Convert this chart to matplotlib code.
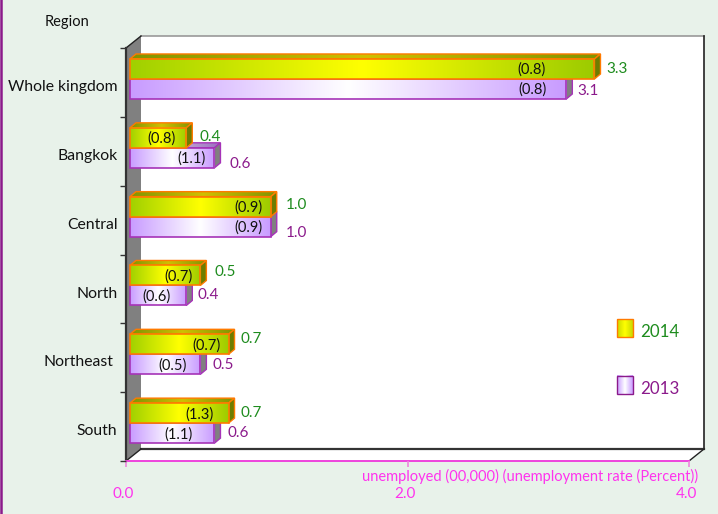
import numpy as np
import matplotlib
matplotlib.use("Agg")
import matplotlib.pyplot as plt
from matplotlib.colors import LinearSegmentedColormap
from matplotlib.patches import Polygon, Rectangle

plt.rcParams["font.family"] = ["Lato", "DejaVu Sans"]

# data
regions = ["Whole kingdom", "Bangkok", "Central", "North", "Northeast", "South"]
unemployed_2014 = [3.3, 0.4, 1.0, 0.5, 0.7, 0.7]
unemployed_2013 = [3.1, 0.6, 1.0, 0.4, 0.5, 0.6]
rate_2014 = ["(0.8)", "(0.8)", "(0.9)", "(0.7)", "(0.7)", "(1.3)"]
rate_2013 = ["(0.8)", "(1.1)", "(0.9)", "(0.6)", "(0.5)", "(1.1)"]
x_ticks = [0.0, 2.0, 4.0]

# label nudges in pixels, the source chart is not very regular
value_dx_2014 = [12, 13, 15, 14, 12, 12]
value_dy_2014 = [0, -1, -2, -3, -5, 0]
value_dx_2013 = [11, 15, 15, 11, 12, 13]
value_dy_2013 = [2, 6, 6, 0, 1, 0]
rate_dx_2014 = [-63, -25, -22, -22, -22, -29]
rate_dx_2013 = [-34, -23, -22, -30, -28, -36]
label_dx = [0, 0, 0, 0, -5, -1]

W, H = 718, 514
BG = "#e8f2ea"
PURPLE = "#8b1a8b"
GREEN = "#1e8c1e"
MAGENTA = "#ff33ee"
ORANGE = "#ff7a00"

fig = plt.figure(figsize=(W / 100, H / 100), dpi=100, facecolor=BG)
# axes = front plane of the fake 3d box
x0, x1, y_top, y_bot = 126, 689, 48, 461
ax = fig.add_axes([x0 / W, 1 - y_bot / H, (x1 - x0) / W, (y_bot - y_top) / H])
ax.patch.set_alpha(0)
for s in ax.spines.values():
    s.set_visible(False)

sx = (x1 - x0) / 4.0
sy = (y_bot - y_top) / 6.0


def px(x, y):
    # pixel position in the reference -> data coords
    return (x - x0) / sx, (y_bot - y) / sy


def poly(points, fc, ec="none", lw=0.0, z=1):
    patch = Polygon(points, closed=True, facecolor=fc, edgecolor=ec,
                    linewidth=lw, zorder=z, clip_on=False)
    ax.add_patch(patch)
    return patch


def gradient(x_left, x_right, y_low, y_high, cmap, z):
    return ax.imshow(np.linspace(0, 1, 256).reshape(1, -1), cmap=cmap, aspect="auto",
                     extent=[x_left, x_right, y_low, y_high], zorder=z, clip_on=False,
                     interpolation="bilinear", vmin=0, vmax=1)


cm_2014 = LinearSegmentedColormap.from_list("y14", ["#a0d000", "#ffff00", "#9ccb00"])
cm_2013 = LinearSegmentedColormap.from_list("p13", ["#c89bff", "#ffffff", "#c89bff"])
cm_top14 = LinearSegmentedColormap.from_list("t14", ["#7f9400", "#d0c000", "#7f9400"])
cm_top13 = LinearSegmentedColormap.from_list("t13", ["#9a70c0", "#c8b0d8", "#9a70c0"])
cm_swatch = LinearSegmentedColormap.from_list("s14", ["#c8d800", "#ffff00", "#c8d800"])

# box walls
poly([px(141, 36), px(704, 36), px(704, 449), px(141, 449)], "white", z=0.1)
poly([px(126, 461), px(141, 449), px(704, 449), px(689, 461)], "white", z=0.1)
poly([px(126, 48), px(141, 36), px(141, 449), px(126, 461)], "#808080", z=0.2)
ax.plot(*zip(px(141, 36), px(704, 36)), color="#999999", lw=1.2, zorder=0.3, clip_on=False)
ax.plot(*zip(px(704, 36), px(704, 449)), color="#222222", lw=1.2, zorder=0.3, clip_on=False)
ax.plot(*zip(px(141, 449), px(704, 449)), color="#333333", lw=1.6, zorder=0.3, clip_on=False)
ax.plot(*zip(px(126, 48), px(141, 36)), color="#222222", lw=1.0, zorder=0.3, clip_on=False)
ax.plot(*zip(px(126, 461), px(141, 449)), color="#222222", lw=1.0, zorder=0.3, clip_on=False)
ax.plot(*zip(px(689, 461), px(704, 449)), color="#222222", lw=1.0, zorder=0.3, clip_on=False)
ax.plot(*zip(px(126, 48), px(126, 461)), color="#333333", lw=1.6, zorder=0.4, clip_on=False)
ax.plot([0, 4], [0, 0], color="#ee44dd", lw=1.4, zorder=0.4, clip_on=False)

# bars
bar_h = 20 / sy
base = 4 / sx
dx, dy = 6 / sx, 5 / sy
n = len(regions)


def draw_bar(value, y_low, cmap, edge, top_cmap, side_col, z):
    left = base
    right = base + value
    y_high = y_low + bar_h
    # top face and side face
    top = poly([(left, y_high), (left + dx, y_high + dy), (right + dx, y_high + dy), (right, y_high)],
               "none", edge, 1.0, z + 0.05)
    im = gradient(left, right + dx, y_high, y_high + dy, top_cmap, z)
    im.set_clip_on(True)
    im.set_clip_path(top)
    poly([(right, y_low), (right, y_high), (right + dx, y_high + dy), (right + dx, y_low + dy)],
         side_col, edge, 1.0, z + 0.05)
    gradient(left, right, y_low, y_high, cmap, z + 0.1)
    ax.add_patch(Rectangle((left, y_low), value, bar_h, fill=False, edgecolor=edge,
                           linewidth=1.2, zorder=z + 0.2, clip_on=False))


for i, region in enumerate(regions):
    yc = n - 1 - i + 0.55
    v14, v13 = unemployed_2014[i], unemployed_2013[i]
    draw_bar(v13, yc - bar_h, cm_2013, "#a633b8", cm_top13, "#808080", 2 + i)
    draw_bar(v14, yc, cm_2014, ORANGE, cm_top14, "#6e7d00", 2.5 + i)

    end14 = base + v14
    end13 = base + v13
    z = 20
    ax.annotate(f"{v14:.1f}", (end14, yc + bar_h / 2), xytext=(value_dx_2014[i] * 0.72, -value_dy_2014[i] * 0.72),
                textcoords="offset points", color=GREEN, fontsize=11, va="center", ha="left", zorder=z, annotation_clip=False)
    ax.annotate(f"{v13:.1f}", (end13, yc - bar_h / 2), xytext=(value_dx_2013[i] * 0.72, -value_dy_2013[i] * 0.72),
                textcoords="offset points", color=PURPLE, fontsize=11, va="center", ha="left", zorder=z, annotation_clip=False)
    ax.annotate(rate_2014[i], (end14, yc + bar_h / 2), xytext=(rate_dx_2014[i] * 0.72, -0.7),
                textcoords="offset points", color="#111111", fontsize=10.5, va="center", ha="center", zorder=z, annotation_clip=False)
    ax.annotate(rate_2013[i], (end13, yc - bar_h / 2), xytext=(rate_dx_2013[i] * 0.72, -0.7),
                textcoords="offset points", color="#111111", fontsize=10.5, va="center", ha="center", zorder=z, annotation_clip=False)
    # region labels sit just below the middle of the bar pair
    ax.annotate(region, (0, yc), xytext=((-8 + label_dx[i]) * 0.72, -5.8), textcoords="offset points",
                fontsize=11.3, color="#111111", va="center", ha="right", annotation_clip=False)

# axes ticks, x labels sit slightly left of their ticks so they are placed by hand
ax.set_xlim(0, 4)
ax.set_ylim(0, 6)
ax.set_xticks(x_ticks)
ax.set_xticklabels([])
ax.tick_params(axis="x", color="#ee88dd", length=4, width=1.2)
for t in x_ticks:
    ax.annotate(f"{t:.1f}", (t, 0), xytext=(-1.8, -23.8), textcoords="offset points", color=MAGENTA,
                fontsize=11, ha="center", va="center", annotation_clip=False)
ax.set_yticks(range(7))
ax.set_yticklabels([])
ax.tick_params(axis="y", color="#333333", length=4.5, width=1.0)

ax.text(*px(67, 22), "Region", fontsize=10.5, color="#111111", ha="center", va="center", clip_on=False)
ax.text(*px(698, 476), "unemployed (00,000) (unemployment rate (Percent))", fontsize=10.5,
        color=MAGENTA, ha="right", va="center", clip_on=False)

# legend
for label, cmap, edge, col, top in [("2014", cm_swatch, ORANGE, GREEN, 319), ("2013", cm_2013, PURPLE, PURPLE, 375.5)]:
    xa, ya = px(617, top + 18)
    xb, yb = px(633, top)
    gradient(xa, xb, ya, yb, cmap, 10)
    ax.add_patch(Rectangle((xa, ya), xb - xa, yb - ya, fill=False, edgecolor=edge, lw=1.0, zorder=11, clip_on=False))
    ax.text(*px(640, top + 13), label, color=col, fontsize=12.2, ha="left", va="center")

ax.set_xlim(0, 4)
ax.set_ylim(0, 6)

# purple line down the left edge of the page
fig.add_artist(plt.Line2D([1 / W, 1 / W], [0, 1], color=PURPLE, lw=1.8, transform=fig.transFigure))

fig.savefig("out.png", dpi=100, facecolor=BG)
